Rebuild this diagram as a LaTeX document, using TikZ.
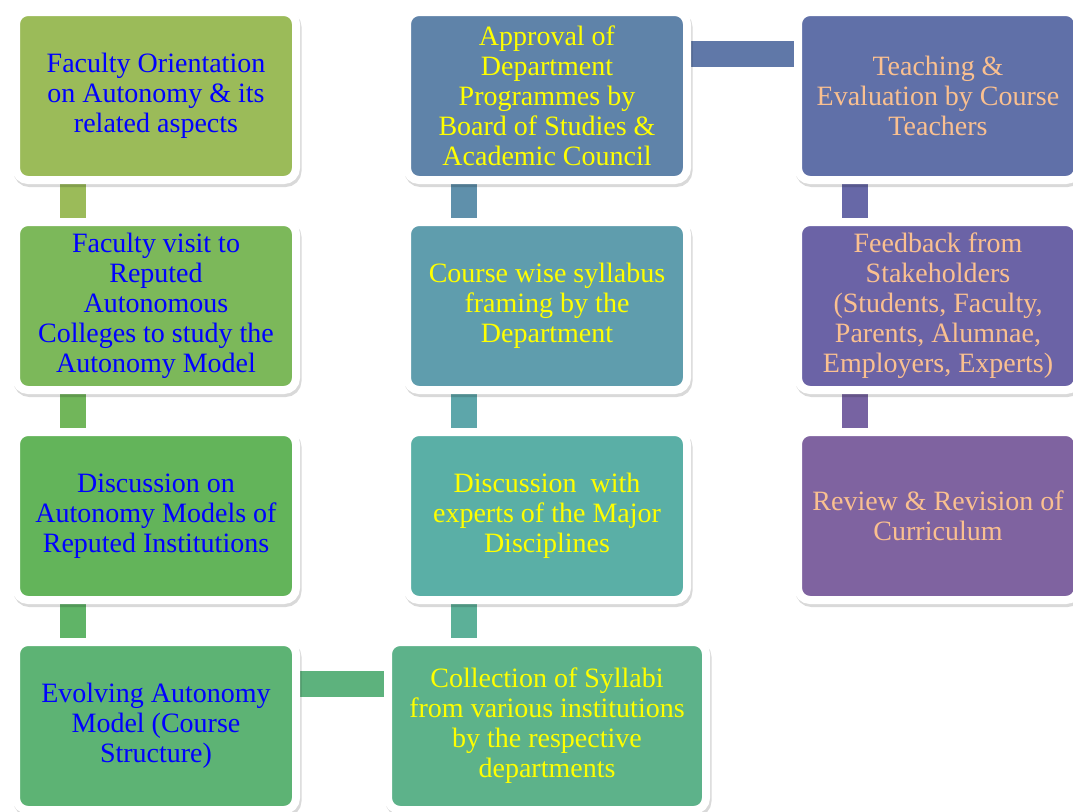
\documentclass[tikz,border=0pt]{standalone}
\usepackage{fontspec}
\setmainfont{Liberation Serif}
\usetikzlibrary{positioning,backgrounds,shadows}
\definecolor{boxFO}{HTML}{9BBB59}
\definecolor{boxFV}{HTML}{7CB85A}
\definecolor{boxDM}{HTML}{63B45A}
\definecolor{boxEV}{HTML}{5DB374}
\definecolor{boxCO}{HTML}{5DB28A}
\definecolor{boxDX}{HTML}{5AAFA6}
\definecolor{boxCS}{HTML}{5F9DAD}
\definecolor{boxAP}{HTML}{5F83A9}
\definecolor{boxTE}{HTML}{6070A8}
\definecolor{boxFB}{HTML}{6B63A6}
\definecolor{boxRR}{HTML}{7F63A0}
\definecolor{textBlue}{HTML}{0000FF}
\definecolor{textYellow}{HTML}{FFFF00}
\definecolor{textPeach}{HTML}{FAC090}
\tikzset{
  stage/.style={rectangle,rounded corners=12pt,draw=white,line width=8pt,
    minimum width=280pt,minimum height=168pt,inner sep=0pt,align=center,
    font=\fontsize{28pt}{30pt}\selectfont,
    drop shadow={shadow xshift=1.5pt,shadow yshift=-3pt,opacity=0.15,fill=black,draw=black,line width=8pt}},
  link/.style={line width=26pt}
}
\begin{document}
\begin{tikzpicture}[x=1pt,y=-1pt]
  \useasboundingbox (0,0) rectangle (1073,811);
  \node[stage,fill=boxFO,text=textBlue] (fo) at (156,96) {Faculty Orientation\\on Autonomy \& its\\related aspects};
  \node[stage,fill=boxFV,text=textBlue] (fv) at (156,306) {Faculty visit to\\Reputed\\Autonomous\\Colleges to study the\\Autonomy Model};
  \node[stage,fill=boxDM,text=textBlue] (dm) at (156,516) {Discussion on\\Autonomy Models of\\Reputed Institutions};
  \node[stage,fill=boxEV,text=textBlue] (ev) at (156,726) {Evolving Autonomy\\Model (Course\\Structure)};
  \node[stage,fill=boxCO,text=textYellow,minimum width=318pt] (co) at (547,726) {Collection of Syllabi\\from various institutions\\by the respective\\departments};
  \node[stage,fill=boxDX,text=textYellow] (dx) at (547,516) {Discussion~ with\\experts of the Major\\Disciplines};
  \node[stage,fill=boxCS,text=textYellow] (cs) at (547,306) {Course wise syllabus\\framing by the\\Department};
  \node[stage,fill=boxAP,text=textYellow] (ap) at (547,96) {Approval of\\Department\\Programmes by\\Board of Studies \&\\Academic Council};
  \node[stage,fill=boxTE,text=textPeach] (te) at (938,96) {Teaching \&\\Evaluation by Course\\Teachers};
  \node[stage,fill=boxFB,text=textPeach] (fb) at (938,306) {Feedback from\\Stakeholders\\(Students, Faculty,\\Parents, Alumnae,\\Employers, Experts)};
  \node[stage,fill=boxRR,text=textPeach] (rr) at (938,516) {Review \& Revision of\\Curriculum};
  \begin{scope}[on background layer]
    \draw[link,boxFO] ([xshift=-83pt]fo.south) -- ([xshift=-83pt]fv.north);
    \draw[link,boxFV!55!boxDM] ([xshift=-83pt]fv.south) -- ([xshift=-83pt]dm.north);
    \draw[link,boxDM!50!boxEV] ([xshift=-83pt]dm.south) -- ([xshift=-83pt]ev.north);
    \draw[link,boxEV!60!boxCO] ([yshift=42pt]ev.east) -- ([yshift=42pt]co.west);
    \draw[link,boxCO!50!boxDX] ([xshift=-83pt]co.north) -- ([xshift=-83pt]dx.south);
    \draw[link,boxDX!50!boxCS] ([xshift=-83pt]dx.north) -- ([xshift=-83pt]cs.south);
    \draw[link,boxCS!50!boxAP] ([xshift=-83pt]cs.north) -- ([xshift=-83pt]ap.south);
    \draw[link,boxAP!40!boxTE] ([yshift=42pt]ap.east) -- ([yshift=42pt]te.west);
    \draw[link,boxTE!40!boxFB] ([xshift=-83pt]te.south) -- ([xshift=-83pt]fb.north);
    \draw[link,boxFB!40!boxRR] ([xshift=-83pt]fb.south) -- ([xshift=-83pt]rr.north);
  \end{scope}
\end{tikzpicture}
\end{document}
